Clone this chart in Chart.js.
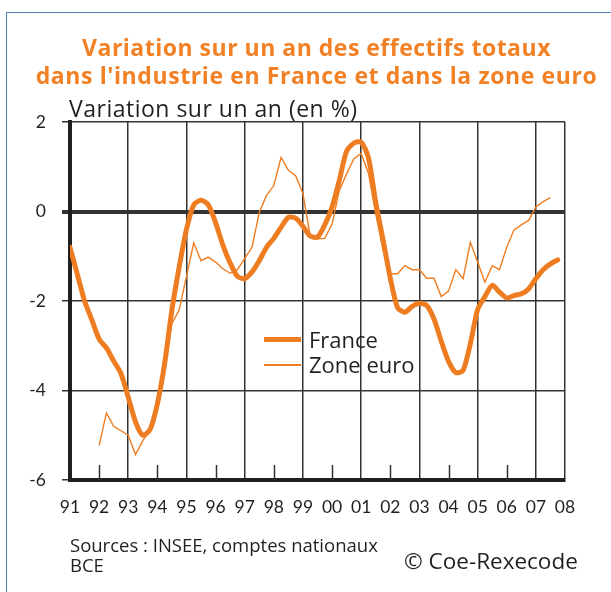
<!DOCTYPE html>
<html>
<head>
<meta charset="utf-8">
<script src="https://cdn.jsdelivr.net/npm/chart.js@4/dist/chart.umd.min.js"></script>
<style>
  html, body { margin: 0; padding: 0; background: #fff; }
  body { width: 611px; height: 592px; position: relative; overflow: hidden; font-family: "Open Sans", Lato, sans-serif; color: #231f20; }
  #frame { position: absolute; left: 6px; top: 12px; width: 700px; height: 700px; border-top: 1px solid #4f81bd; border-left: 1px solid #4f81bd; }
  #wrap { position: absolute; left: 0; top: 0; width: 611px; height: 592px; }
  .title { position: absolute; left: 0; width: 633px; text-align: center; color: #f28024; font-weight: bold; font-size: 23px; line-height: 1; letter-spacing: 0.5px; }
  .txt { position: absolute; white-space: nowrap; line-height: 1; }
  .swatch { position: absolute; background: #ee7d22; }
</style>
</head>
<body>
<div id="frame"></div>
<div id="wrap"><canvas id="chart" width="611" height="592"></canvas></div>
<div class="title" style="top:35.5px">Variation sur un an des effectifs totaux</div>
<div class="title" style="top:63.5px; letter-spacing:0.6px;">dans l'industrie en France et dans la zone euro</div>
<div class="txt" style="left:69px; top:96.5px; font-size:23px; letter-spacing:0.5px;">Variation sur un an (en %)</div>

<div class="swatch" style="left:264px; top:337px; width:37px; height:5px;"></div>
<div class="txt" style="left:309px; top:327.5px; font-size:22px;">France</div>
<div class="swatch" style="left:264px; top:364px; width:37px; height:1.5px;"></div>
<div class="txt" style="left:309px; top:352.5px; font-size:22px;">Zone euro</div>

<div class="txt" style="left:70px; top:535.5px; font-size:18.5px;">Sources : INSEE, comptes nationaux</div>
<div class="txt" style="left:70px; top:555.5px; font-size:18.5px;">BCE</div>
<div class="txt" style="left:404px; top:550px; font-size:22.5px;">© Coe-Rexecode</div>

<script>
// quarterly, France from 1991 Q1, zone euro from 1992 Q1
const franceStart = 1991;
const france = [
  -0.80, -1.40, -2.00, -2.42, -2.85, -3.05, -3.34, -3.62,
  -4.15, -4.70, -5.00, -4.87, -4.30, -3.40, -2.20, -1.24,
  -0.40, 0.15, 0.25, 0.15, -0.25, -0.75, -1.15, -1.45,
  -1.50, -1.35, -1.10, -0.80, -0.60, -0.35, -0.13, -0.15,
  -0.33, -0.55, -0.57, -0.30, 0.10, 0.70, 1.35, 1.53,
  1.55, 1.20, 0.20, -0.63, -1.49, -2.15, -2.25, -2.12,
  -2.05, -2.10, -2.40, -2.90, -3.35, -3.60, -3.55, -2.95,
  -2.19, -1.90, -1.65, -1.80, -1.93, -1.88, -1.84, -1.73,
  -1.50, -1.30, -1.17, -1.08
];
const euroStart = 1992;
const euro = [
  -5.23, -4.50, -4.80, -4.90, -5.00, -5.43, -5.12, -4.88,
  -4.20, -3.40, -2.50, -2.20, -1.45, -0.70, -1.10, -1.02,
  -1.13, -1.28, -1.38, -1.30, -1.05, -0.80, -0.02, 0.36,
  0.58, 1.21, 0.92, 0.80, 0.40, -0.55, -0.61, -0.60,
  -0.28, 0.47, 0.84, 1.18, 1.30, 0.85, -0.05, -0.85,
  -1.39, -1.39, -1.21, -1.30, -1.30, -1.49, -1.49, -1.90,
  -1.78, -1.30, -1.50, -0.69, -1.13, -1.58, -1.21, -1.30,
  -0.80, -0.41, -0.30, -0.20, 0.10, 0.22, 0.31
];
const yTicks = [2, 0, -2, -4, -6];

const orange = '#ee7d22';
const toPoints = (start, arr) => arr.map((v, i) => ({ x: start + i / 4, y: v }));

// short tick marks for even years, drawn from the bottom axis upward
const evenTicks = {
  id: 'evenTicks',
  beforeDatasetsDraw(chart) {
    const { ctx, scales: { x, y } } = chart;
    ctx.save();
    ctx.strokeStyle = '#333';
    ctx.lineWidth = 1.5;
    for (let yr = 1992; yr < 2008; yr += 2) {
      const px = Math.round(x.getPixelForValue(yr)) + 0.5;
      ctx.beginPath();
      ctx.moveTo(px, y.bottom);
      ctx.lineTo(px, y.bottom - 15);
      ctx.stroke();
    }
    ctx.restore();
  }
};

new Chart(document.getElementById('chart'), {
  type: 'line',
  data: {
    datasets: [
      { label: 'Zone euro', data: toPoints(euroStart, euro), borderColor: orange, borderWidth: 1.4, pointRadius: 0, tension: 0 },
      { label: 'France', data: toPoints(franceStart, france), borderColor: orange, borderWidth: 5, pointRadius: 0, tension: 0.25, borderJoinStyle: 'round', borderCapStyle: 'round' }
    ]
  },
  options: {
    responsive: false,
    animation: false,
    layout: { padding: { left: 0, top: 122, right: 46, bottom: 0 } },
    plugins: { legend: { display: false }, tooltip: { enabled: false } },
    scales: {
      x: {
        type: 'linear',
        min: 1991,
        max: 2008,
        afterFit: (s) => { s.height = 112; },
        afterBuildTicks: (s) => { s.ticks = []; for (let yr = 1991; yr <= 2008; yr++) s.ticks.push({ value: yr }); },
        grid: {
          drawTicks: false,
          color: (c) => (c.tick && (c.tick.value % 2 === 1 || c.tick.value === 2008)) ? '#333' : 'rgba(0,0,0,0)',
          lineWidth: 1.5
        },
        border: { color: '#231f20', width: 4 },
        ticks: {
          padding: 17,
          color: '#231f20',
          font: { family: 'Lato', size: 17.5 },
          maxRotation: 0,
          autoSkip: false,
          callback: (v) => String(v % 100).padStart(2, '0')
        }
      },
      y: {
        min: -6,
        max: 2,
        afterFit: (s) => { s.width = 70; },
        afterBuildTicks: (s) => { s.ticks = yTicks.map(v => ({ value: v })); },
        grid: {
          color: '#333',
          lineWidth: (c) => (c.tick && c.tick.value === 0) ? 4 : 1.5,
          tickLength: 8
        },
        border: { color: '#231f20', width: 4 },
        ticks: {
          padding: 16,
          color: '#231f20',
          font: { family: 'Lato', size: 17.5 }
        }
      }
    }
  },
  plugins: [evenTicks]
});
</script>
</body>
</html>
